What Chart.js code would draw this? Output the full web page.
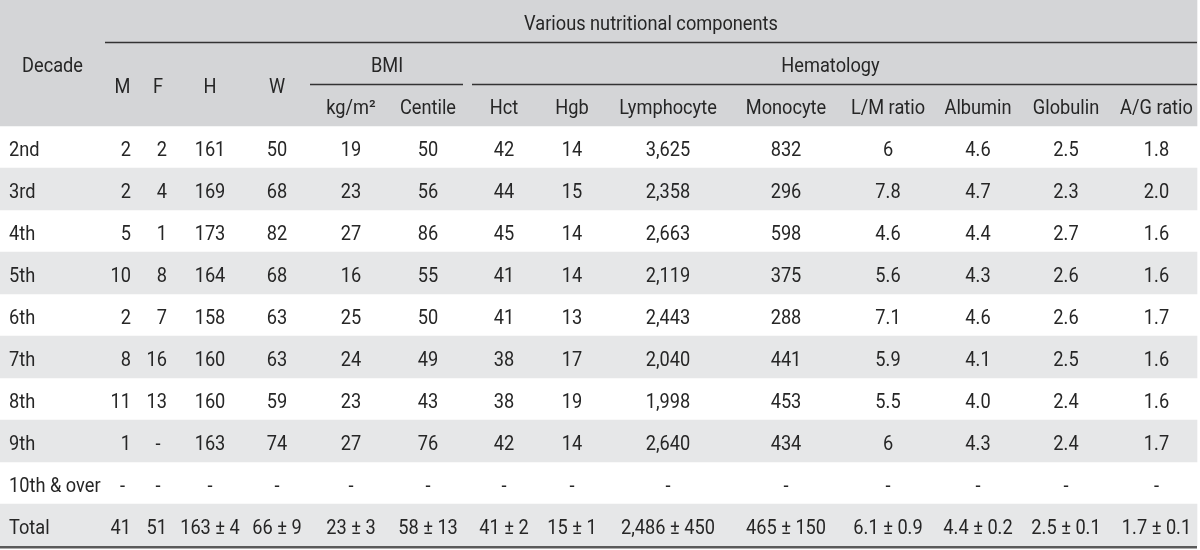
<!DOCTYPE html>
<html>
<head>
<meta charset="utf-8">
<script src="https://cdn.jsdelivr.net/npm/chart.js@4.4.0/dist/chart.umd.min.js"></script>
<style>
  html, body { margin: 0; padding: 0; background: #fff; }
</style>
</head>
<body>
<canvas id="table" width="1200" height="550"></canvas>
<script>
// ==========================================================
// Table data
// ==========================================================

const decades = ["2nd", "3rd", "4th", "5th", "6th", "7th", "8th", "9th", "10th & over"];
const totalLabel = "Total";

const colHeaders = ["M", "F", "H", "W", "kg/m²", "Centile", "Hct", "Hgb",
  "Lymphocyte", "Monocyte", "L/M ratio", "Albumin", "Globulin", "A/G ratio"];

const male       = [2, 2, 5, 10, 2, 8, 11, 1, null];
const female     = [2, 4, 1, 8, 7, 16, 13, null, null];
const height     = [161, 169, 173, 164, 158, 160, 160, 163, null];
const weight     = [50, 68, 82, 68, 63, 63, 59, 74, null];
const bmi        = [19, 23, 27, 16, 25, 24, 23, 27, null];
const centile    = [50, 56, 86, 55, 50, 49, 43, 76, null];
const hct        = [42, 44, 45, 41, 41, 38, 38, 42, null];
const hgb        = [14, 15, 14, 14, 13, 17, 19, 14, null];
const lymphocyte = [3625, 2358, 2663, 2119, 2443, 2040, 1998, 2640, null];
const monocyte   = [832, 296, 598, 375, 288, 441, 453, 434, null];
const lmRatio    = [6, 7.8, 4.6, 5.6, 7.1, 5.9, 5.5, 6, null];
const albumin    = [4.6, 4.7, 4.4, 4.3, 4.6, 4.1, 4.0, 4.3, null];
const globulin   = [2.5, 2.3, 2.7, 2.6, 2.6, 2.5, 2.4, 2.4, null];
const agRatio    = [1.8, 2.0, 1.6, 1.6, 1.7, 1.6, 1.6, 1.7, null];

const totalMean = [41, 51, 163, 66, 23, 58, 41, 15, 2486, 465, 6.1, 4.4, 2.5, 1.7];
const totalSD   = [null, null, 4, 9, 3, 13, 2, 1, 450, 150, 0.9, 0.2, 0.1, 0.1];

const columns = [male, female, height, weight, bmi, centile, hct, hgb,
  lymphocyte, monocyte, lmRatio, albumin, globulin, agRatio];

// how each column prints its numbers
const colFormat = [null, null, null, null, null, null, null, null,
  "comma", "comma", null, 1, 1, 1];

// ==========================================================
// Layout
// ==========================================================

const TABLE_W = 1197;
// first entry is the Decade column
const colWidths = [105, 35, 36, 68, 66, 82, 72, 80, 56, 136, 100, 104, 76, 100, 81];
const HEADER_BG = "#d4d5d7";
const STRIPE_BG = "#e6e7e8";
const TEXT = "#262626";
const RULE = "#333333";
const FONT = '20px Roboto, "Liberation Sans", sans-serif';
const SQUEEZE = 0.91; // condensed look

const colEdges = [0];
colWidths.forEach(w => colEdges.push(colEdges[colEdges.length - 1] + w));

const rowLabels = ["", "", "", ...decades, totalLabel];
const HEAD_ROWS = 3;

function fmt(v, f) {
  if (v === null || v === undefined) return "-";
  if (f === "comma") return v.toLocaleString("en-US");
  if (typeof f === "number") return v.toFixed(f);
  return String(v);
}

const tableText = {
  id: "tableText",
  afterDatasetsDraw(chart) {
    const { ctx } = chart;
    const x = chart.scales.x;
    const y = chart.scales.y;
    const base = 9; // baseline offset from row middle

    ctx.save();
    ctx.font = FONT;
    ctx.fillStyle = TEXT;
    ctx.textBaseline = "alphabetic";

    const put = (text, xv, row, align) => {
      ctx.save();
      ctx.translate(x.getPixelForValue(xv), y.getPixelForValue(row) + base);
      ctx.scale(SQUEEZE, 1);
      ctx.textAlign = align || "center";
      ctx.fillText(text, 0, 0);
      ctx.restore();
    };
    const mid = i => (colEdges[i] + colEdges[i + 1]) / 2;

    // header rules
    ctx.strokeStyle = RULE;
    ctx.lineWidth = 1.4;
    const rule = (x0, x1, row) => {
      const py = Math.round(y.getPixelForValue(row)) + 0.5;
      ctx.beginPath();
      ctx.moveTo(x.getPixelForValue(x0), py);
      ctx.lineTo(x.getPixelForValue(x1), py);
      ctx.stroke();
    };
    rule(colEdges[1], TABLE_W, 0.5);
    rule(colEdges[5], colEdges[7] - 1, 1.5);
    rule(colEdges[7] + 8, TABLE_W, 1.5);

    // header text
    put("Various nutritional components", (colEdges[1] + TABLE_W) / 2, 0);
    put("Decade", mid(0), 1);
    put("BMI", (colEdges[5] + colEdges[7]) / 2, 1);
    put("Hematology", (colEdges[7] + TABLE_W) / 2, 1);
    colHeaders.forEach((h, c) => {
      put(h, mid(c + 1), c < 4 ? 1.5 : 2);
    });

    // body
    const rightAligned = [0, 1];
    decades.forEach((d, r) => {
      const row = HEAD_ROWS + r;
      put(d, 9, row, "left");
      columns.forEach((col, c) => {
        const v = col[r];
        if (v !== null && rightAligned.includes(c)) {
          put(fmt(v, colFormat[c]), colEdges[c + 2] - 9, row, "right");
        } else {
          put(fmt(v, colFormat[c]), mid(c + 1), row);
        }
      });
    });

    const totalRow = HEAD_ROWS + decades.length;
    put(totalLabel, 9, totalRow, "left");
    totalMean.forEach((m, c) => {
      const f = colFormat[c];
      if (totalSD[c] === null) {
        put(fmt(m, f), colEdges[c + 2] - 9, totalRow, "right");
      } else {
        put(fmt(m, f) + " ± " + fmt(totalSD[c], f), mid(c + 1), totalRow);
      }
    });

    // bottom rule
    const by = y.getPixelForValue(totalRow + 0.5);
    ctx.strokeStyle = "#5a5a5a";
    ctx.lineWidth = 2.5;
    ctx.beginPath();
    ctx.moveTo(x.getPixelForValue(0), by + 1.25);
    ctx.lineTo(x.getPixelForValue(TABLE_W), by + 1.25);
    ctx.stroke();

    ctx.restore();
  }
};

new Chart(document.getElementById("table"), {
  type: "bar",
  data: {
    labels: rowLabels,
    datasets: [
      {
        label: "header",
        data: rowLabels.map((_, i) => (i < HEAD_ROWS ? [0, TABLE_W] : null)),
        backgroundColor: HEADER_BG
      },
      {
        label: "stripes",
        data: rowLabels.map((_, i) => (i >= HEAD_ROWS && (i - HEAD_ROWS) % 2 === 1 ? [0, TABLE_W] : null)),
        backgroundColor: STRIPE_BG
      }
    ]
  },
  options: {
    indexAxis: "y",
    responsive: false,
    animation: false,
    devicePixelRatio: 1,
    layout: { padding: { top: 0, left: 0, right: 0, bottom: 4 } },
    datasets: {
      bar: { grouped: false, categoryPercentage: 1, barPercentage: 1, borderWidth: 0 }
    },
    plugins: {
      legend: { display: false },
      tooltip: { enabled: false }
    },
    scales: {
      x: { type: "linear", min: 0, max: 1200, display: false },
      y: { type: "category", display: false }
    }
  },
  plugins: [tableText]
});
</script>
</body>
</html>
